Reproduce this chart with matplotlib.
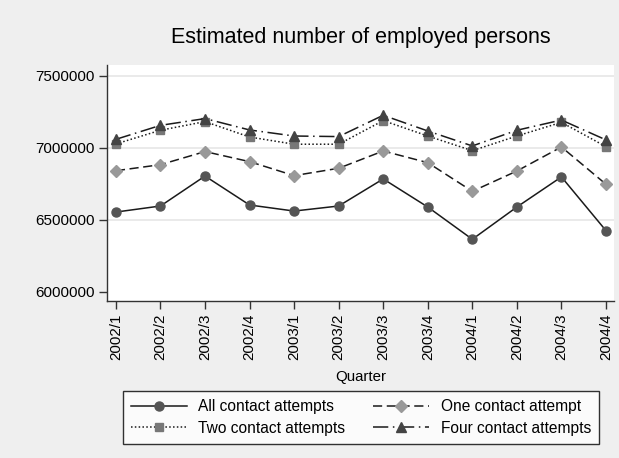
import matplotlib
matplotlib.use("Agg")
import matplotlib.pyplot as plt
import numpy as np

plt.rcParams["font.family"] = ["Liberation Sans", "DejaVu Sans"]

QUARTERS = ["2002/1", "2002/2", "2002/3", "2002/4",
            "2003/1", "2003/2", "2003/3", "2003/4",
            "2004/1", "2004/2", "2004/3", "2004/4"]

ALL_ATTEMPTS = [6555000, 6597000, 6805000, 6604000, 6562000, 6597000,
                6785000, 6590000, 6366000, 6590000, 6799000, 6426000]
ONE_ATTEMPT = [6842000, 6884000, 6975000, 6905000, 6808000, 6859000,
               6979000, 6898000, 6699000, 6840000, 7007000, 6748000]
TWO_ATTEMPTS = [7028000, 7123000, 7183000, 7076000, 7026000, 7026000,
                7190000, 7083000, 6981000, 7083000, 7178000, 7009000]
FOUR_ATTEMPTS = [7060000, 7157000, 7204000, 7125000, 7083000, 7079000,
                 7227000, 7118000, 7014000, 7123000, 7194000, 7056000]

Y_TICKS = [6000000, 6500000, 7000000, 7500000]

SERIES = [
    ("All contact attempts", ALL_ATTEMPTS, "-", "o", "#555555", 6.5),
    ("One contact attempt", ONE_ATTEMPT, (0, (6, 3)), "D", "#999999", 6),
    ("Two contact attempts", TWO_ATTEMPTS, (0, (1, 1.5)), "s", "#777777", 6),
    ("Four contact attempts", FOUR_ATTEMPTS, (0, (10, 3, 1, 3)), "^", "#444444", 7.5),
]

W, H = 619, 458
fig = plt.figure(figsize=(W / 100, H / 100), dpi=100, facecolor="#efefef")
ax = fig.add_axes([107 / W, (H - 301) / H, (614 - 107) / W, (301 - 65) / H])
ax.set_facecolor("white")

x = np.arange(len(QUARTERS))
lines = {}
for label, vals, ls, mk, mc, ms in SERIES:
    lines[label], = ax.plot(x, vals, linestyle=ls, color="#1a1a1a", linewidth=1.1,
                            marker=mk, markersize=ms, markerfacecolor=mc,
                            markeredgecolor=mc, label=label)

ax.set_xlim(-0.2, 11.18)
ax.set_ylim(5937500, 7576000)
ax.set_yticks(Y_TICKS)
ax.set_yticklabels([str(v) for v in Y_TICKS], fontsize=11)
ax.set_xticks(x)
ax.set_xticklabels(QUARTERS, rotation=90, fontsize=10.9)
for v in Y_TICKS[1:]:
    ax.axhline(v, color="#e6e6e6", linewidth=1.2, zorder=0)

ax.spines[["top", "right"]].set_visible(False)
for s in ("left", "bottom"):
    ax.spines[s].set_color("#333333")
    ax.spines[s].set_linewidth(1.0)
ax.tick_params(direction="out", length=6, color="#333333", width=1.0)
ax.tick_params(axis="y", pad=3)
ax.tick_params(axis="x", pad=3)

ax.set_xlabel("Quarter", fontsize=10.8, labelpad=7)
fig.text(361 / W, 1 - 38 / H, "Estimated number of employed persons",
         ha="center", va="center", fontsize=15.5)

# row-wise order like the original: All | One, Two | Four
order = ["All contact attempts", "Two contact attempts",
         "One contact attempt", "Four contact attempts"]
leg = fig.legend([lines[k] for k in order], order,
                 loc="center", bbox_to_anchor=(361 / W, 1 - 417.5 / H), ncol=2,
                 fontsize=11.2, frameon=True, fancybox=False,
                 handlelength=3.6, handletextpad=0.75, columnspacing=1.8,
                 borderpad=0.5, labelspacing=0.42)
leg.get_frame().set_edgecolor("#000000")
leg.get_frame().set_linewidth(1.0)

fig.savefig("out.png", dpi=100, facecolor=fig.get_facecolor())
